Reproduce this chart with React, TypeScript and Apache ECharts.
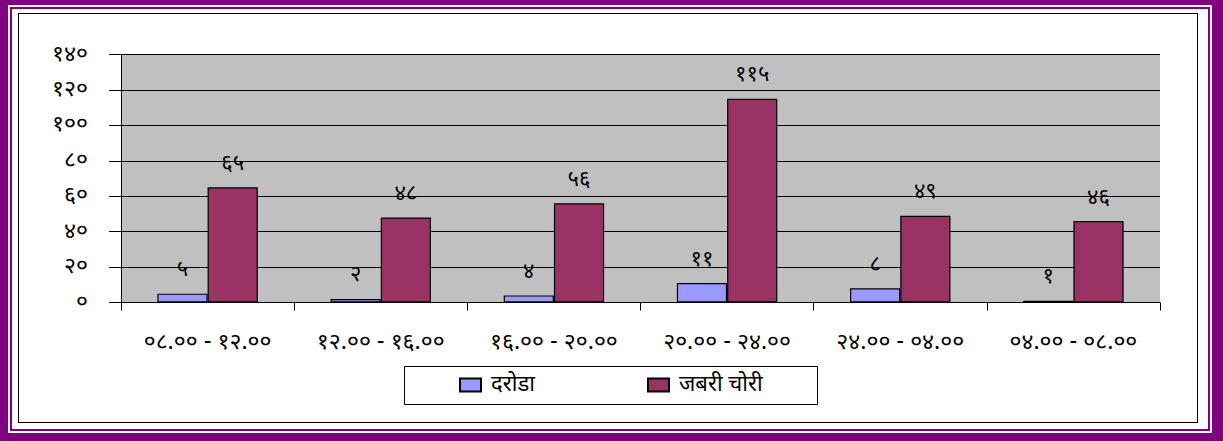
import React, { useEffect, useRef } from "react";
import * as echarts from "echarts";

const categories = [
  "०८.०० - १२.००",
  "१२.०० - १६.००",
  "१६.०० - २०.००",
  "२०.०० - २४.००",
  "२४.०० - ०४.००",
  "०४.०० - ०८.००",
];
const seriesNames = ["दरोडा", "जबरी चोरी"];
const darodaValues = [5, 2, 4, 11, 8, 1];
const jabariChoriValues = [65, 48, 56, 115, 49, 46];
const yTickLabels = ["०", "२०", "४०", "६०", "८०", "१००", "१२०", "१४०"];

const devDigits = ["०", "१", "२", "३", "४", "५", "६", "७", "८", "९"];
const toDev = (n: number) =>
  String(n)
    .split("")
    .map((c) => (c >= "0" && c <= "9" ? devDigits[+c] : c))
    .join("");

const FONT = '"Noto Sans Devanagari", "Lohit Devanagari", Mangal, "Noto Sans", sans-serif';

export default function App() {
  const ref = useRef<HTMLDivElement>(null);
  useEffect(() => {
    if (!ref.current) return;
    const chart = echarts.init(ref.current, undefined, { renderer: "svg" });
    const labelCfg = {
      show: true,
      position: "top" as const,
      distance: 12,
      color: "#000",
      fontSize: 22,
      lineHeight: 22,
      fontFamily: FONT,
      formatter: (p: any) => toDev(p.value),
    };
    const legendText = { fontSize: 22, color: "#000", fontFamily: FONT, lineHeight: 22, padding: [0, 0, 0, 5] };
    chart.setOption({
      animation: false,
      textStyle: { fontFamily: FONT },
      grid: {
        left: 121,
        right: 63,
        top: 54.5,
        bottom: 138.5,
        show: true,
        backgroundColor: "#C0C0C0",
        borderWidth: 0,
      },
      xAxis: {
        type: "category",
        data: categories,
        axisLine: { show: true, lineStyle: { color: "#000", width: 1 } },
        axisTick: { show: true, length: 8, lineStyle: { color: "#000" } },
        axisLabel: { color: "#000", fontSize: 23, margin: 29, fontFamily: FONT },
      },
      yAxis: {
        type: "value",
        min: 0,
        max: 140,
        interval: 20,
        axisLine: { show: true, lineStyle: { color: "#000", width: 1 } },
        axisTick: { show: true, length: 12, lineStyle: { color: "#000" } },
        splitLine: { show: true, lineStyle: { color: "#000", width: 1 } },
        axisLabel: {
          color: "#000",
          fontSize: 23,
          margin: 33,
          padding: [10, 0, 0, 0],
          fontFamily: FONT,
          formatter: (v: number) => yTickLabels[Math.round(v / 20)] ?? "",
        },
      },
      legend: [
        {
          data: [seriesNames[0]],
          left: 459,
          top: 374,
          padding: 0,
          itemWidth: 21,
          itemHeight: 13,
          icon: "rect",
          textStyle: legendText,
        },
        {
          data: [seriesNames[1]],
          left: 647,
          top: 374,
          padding: 0,
          itemWidth: 21,
          itemHeight: 13,
          icon: "rect",
          textStyle: legendText,
        },
      ],
      graphic: [
        {
          type: "rect",
          shape: { x: 404.5, y: 366.5, width: 413, height: 38 },
          style: { fill: "none", stroke: "#000", lineWidth: 1 },
          silent: true,
        },
      ],
      series: [
        {
          name: seriesNames[0],
          type: "bar",
          data: darodaValues,
          barWidth: "29%",
          barGap: "0%",
          itemStyle: { color: "#9999FF", borderColor: "#000", borderWidth: 1.2 },
          label: labelCfg,
        },
        {
          name: seriesNames[1],
          type: "bar",
          data: jabariChoriValues,
          barWidth: "29%",
          barGap: "0%",
          itemStyle: { color: "#993366", borderColor: "#000", borderWidth: 1.2 },
          label: labelCfg,
        },
      ],
    });
    return () => chart.dispose();
  }, []);

  return (
    <div style={{ position: "fixed", left: 0, top: 0, width: 1223, height: 441, background: "#800080" }}>
      <div style={{ position: "absolute", left: 8, top: 5, width: 1204, height: 428, background: "#fff" }} />
      <div
        style={{
          position: "absolute",
          left: 10,
          top: 7,
          width: 1200,
          height: 424,
          border: "2px solid #800080",
          boxSizing: "border-box",
        }}
      />
      <div
        style={{
          position: "absolute",
          left: 18,
          top: 13,
          width: 1180,
          height: 410,
          border: "1.5px solid #000",
          boxSizing: "border-box",
        }}
      />
      <div ref={ref} style={{ position: "absolute", left: 0, top: 0, width: 1223, height: 441 }} />
    </div>
  );
}
